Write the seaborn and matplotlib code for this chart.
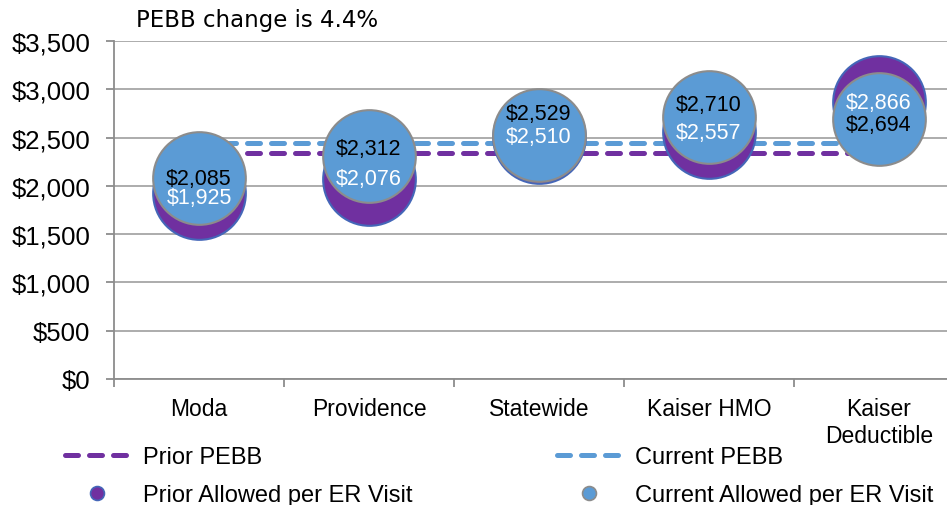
import matplotlib
matplotlib.use("Agg")
import matplotlib.pyplot as plt
from matplotlib.lines import Line2D
import seaborn as sns
import pandas as pd

# ---- data ----
categories = ["Moda", "Providence", "Statewide", "Kaiser HMO", "Kaiser\nDeductible"]
prior_allowed = [1925, 2076, 2510, 2557, 2866]
current_allowed = [2085, 2312, 2529, 2710, 2694]
prior_pebb = 2340
current_pebb = 2443
y_ticks = [0, 500, 1000, 1500, 2000, 2500, 3000, 3500]
title_text = "PEBB change is 4.4%"
legend_labels = ["Prior PEBB", "Prior Allowed per ER Visit", "Current PEBB", "Current Allowed per ER Visit"]

# label offsets (points) to mimic Excel label placement
cur_label_dy = [-0.5, 5.5, 15, 9.5, -4]
pri_label_dy = [-3.5, 0, 0, 0, 0]

PURPLE = "#7030A0"
BLUE = "#5B9BD5"
GRID = "#A6A6A6"
AXIS = "#8C8C8C"

sns.set_theme(style="white")
plt.rcParams["font.family"] = ["Liberation Sans", "DejaVu Sans"]
plt.rcParams["text.color"] = "black"
plt.rcParams["xtick.labelcolor"] = "black"
plt.rcParams["ytick.labelcolor"] = "black"

df = pd.DataFrame({
    "cat": categories,
    "prior": prior_allowed,
    "current": current_allowed,
    "prior_pebb": [prior_pebb] * len(categories),
    "current_pebb": [current_pebb] * len(categories),
})

fig = plt.figure(figsize=(9.47, 5.06), dpi=100)
ax = fig.add_axes([114 / 947, 1 - 380 / 506, 850 / 947, 338 / 506])

lw = 3.6
dash = (2.6, 2.2)
sns.lineplot(data=df, x="cat", y="current_pebb", ax=ax, color=BLUE, lw=lw,
             dashes=False, zorder=2, sort=False)
sns.lineplot(data=df, x="cat", y="prior_pebb", ax=ax, color=PURPLE, lw=lw,
             dashes=False, zorder=2, sort=False)
for ln in ax.lines:
    ln.set_dashes(dash)
    ln.set_dash_capstyle("round")

size = 4450
sns.scatterplot(data=df, x="cat", y="prior", ax=ax, s=size, color=PURPLE,
                edgecolor="#4466B8", linewidth=1.5, zorder=3, legend=False)
sns.scatterplot(data=df, x="cat", y="current", ax=ax, s=size, color=BLUE,
                edgecolor="#8C8C8C", linewidth=1.5, zorder=4, legend=False)

for i, (p, c) in enumerate(zip(prior_allowed, current_allowed)):
    ax.annotate(f"${c:,}", (i, c), xytext=(0, cur_label_dy[i]), textcoords="offset points",
                ha="center", va="center", fontsize=15.5, color="black", zorder=6)
    ax.annotate(f"${p:,}", (i, p), xytext=(0, pri_label_dy[i]), textcoords="offset points",
                ha="center", va="center", fontsize=15.5, color="white", zorder=6)

ax.set_xlim(-0.5, 4.5)
ax.set_ylim(0, 3500)
ax.set_yticks(y_ticks)
ax.set_yticklabels([f"${v:,}" for v in y_ticks])
ax.set_xticks(range(len(categories)))
ax.set_xticklabels(categories)
ax.set_xticks([-0.5, 0.5, 1.5, 2.5, 3.5], minor=True)
ax.set_xlabel("")
ax.set_ylabel("")

ax.yaxis.grid(True, color=GRID, lw=1.3)
ax.xaxis.grid(False)
ax.set_axisbelow(True)
for s in ["top", "right"]:
    ax.spines[s].set_visible(False)
for s in ["left", "bottom"]:
    ax.spines[s].set_color(AXIS)
    ax.spines[s].set_linewidth(1.3)

ax.tick_params(axis="y", which="major", length=6, width=1.3, color=AXIS, pad=11,
               labelsize=18.5, left=True)
ax.tick_params(axis="x", which="major", length=0, pad=13, labelsize=16.5)
ax.tick_params(axis="x", which="minor", length=6, width=1.3, color=AXIS, bottom=True)

fig.text(257 / 947, 1 - 27 / 506, title_text, ha="center", va="baseline",
         fontsize=16.5, family="DejaVu Sans", color="black")

def line_handle(color):
    h = Line2D([], [], color=color, lw=lw)
    h.set_dashes(dash)
    h.set_dash_capstyle("round")
    return h

def dot_handle(color, ec):
    return Line2D([], [], ls="none", marker="o", markersize=10, markerfacecolor=color,
                  markeredgecolor=ec, markeredgewidth=1.2)

common = dict(frameon=False, fontsize=17, handlelength=2.75, handletextpad=0.55,
              labelspacing=0.68, borderpad=0, borderaxespad=0, loc="upper left")
leg1 = fig.legend([line_handle(PURPLE), dot_handle(PURPLE, "#4466B8")], legend_labels[:2],
                  bbox_to_anchor=(65 / 947, 1 - 447 / 506), **common)
leg2 = fig.legend([line_handle(BLUE), dot_handle(BLUE, "#8C8C8C")], legend_labels[2:],
                  bbox_to_anchor=(557 / 947, 1 - 447 / 506), **common)

fig.savefig("out.png", dpi=100)
